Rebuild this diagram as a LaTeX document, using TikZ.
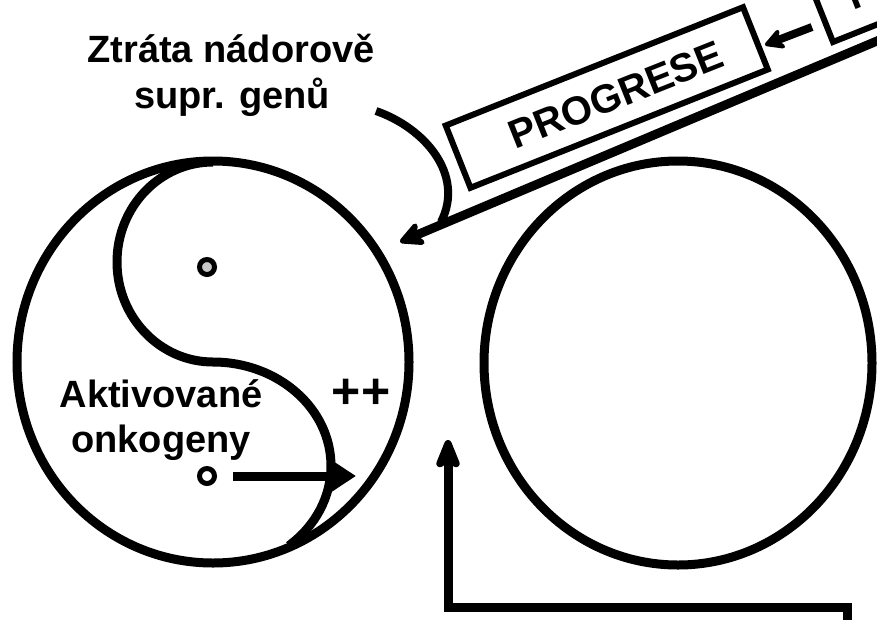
\documentclass[tikz,border=0pt]{standalone}
\usepackage{fontspec}
\setmainfont{Liberation Sans}
\usetikzlibrary{arrows.meta,shapes.geometric}
\definecolor{dotgray}{RGB}{200,200,200}
\begin{document}
\begin{tikzpicture}[x=1pt,y=-1pt,
  ring/.style={line width=9pt},
  cell/.style={draw, ellipse, line width=9pt, inner sep=0pt},
  lbl/.style={font=\bfseries\fontsize{38}{46}\selectfont, inner sep=0pt},
  stagebox/.style={draw, rectangle, line width=6pt, inner sep=0pt,
    minimum height=67pt, rotate=21.7},
  stagetext/.style={font=\bfseries\fontsize{40}{48}\selectfont, inner sep=0pt, rotate=21.7},
  dotnode/.style={draw, circle, line width=5pt, minimum size=15pt, inner sep=0pt},
  conn/.style={line width=9pt},
  barb/.style={-{Stealth[length=30pt,width=30pt,inset=9pt,round]}}
]
\clip (0,0) rectangle (877,619);

% the two cells
\node[cell, minimum width=392pt, minimum height=402pt] (cellA) at (213,362) {};
\node[cell, minimum width=388pt, minimum height=404pt] (cellB) at (678,363) {};

% S-shaped divide inside the left cell
\draw[ring] (213,162) arc[start angle=270, end angle=90, x radius=96, y radius=100]
  arc[start angle=270, end angle=410, x radius=118, y radius=104];

% small dots
\node[dotnode, fill=dotgray] (dotA) at (207,267) {};
\node[dotnode, fill=white] (dotB) at (207,476) {};

% labels
\node[lbl, anchor=base] (loss1) at (231,62) {Ztráta nádorově};
\node[lbl, anchor=base] (loss2) at (232,108) {supr. genů};
\node[lbl, anchor=base] (onc1) at (161,407) {Aktivované};
\node[lbl, anchor=base] (onc2) at (161,452) {onkogeny};
\node[font=\bfseries\fontsize{50}{58}\selectfont, inner sep=0pt] (plus) at (361,394) {++};

% stage boxes
\node[stagebox, minimum width=320pt] (progbox) at (606.75,97.5) {};
\node[stagetext] (progtext) at (616,95) {PROGRESE};
\node[stagebox, minimum width=300pt] (promobox) at (960,-44.6) {};
\node[stagetext, anchor=base west] (promotext) at (852.8,10.5) {PROMOCE};

% arrows between the stages and into the cell
\coordinate (promoout) at (812,27);
\coordinate (progin) at (765,45);
\draw[line width=8pt, -{Stealth[length=24pt,width=26pt,inset=8pt,round]}] (promoout) -- (progin);

\coordinate (longstart) at (900,31.3);
\coordinate (longtip) at (400,242);
\draw[conn, barb] (longstart) -- (longtip);

\coordinate (lossstart) at (376,111);
\coordinate (lossjoin) at (441,222);
\draw[line width=8pt] (lossstart) .. controls (425,128) and (465,175) .. (lossjoin);

% arrow from the lower dot
\coordinate (oncstart) at (233,476);
\coordinate (onctip) at (356,476);
\draw[conn, -{Triangle[length=26pt,width=32pt]}] (oncstart) -- (onctip);

% bottom feedback arrow
\coordinate (fb0) at (847,625);
\coordinate (fb1) at (847,607);
\coordinate (fb2) at (448,607);
\coordinate (fbtip) at (448,440);
\draw[conn, -{Stealth[length=38pt,width=30pt,inset=9pt,round]}] (fb0) -- (fb1) -- (fb2) -- (fbtip);
\end{tikzpicture}
\end{document}
